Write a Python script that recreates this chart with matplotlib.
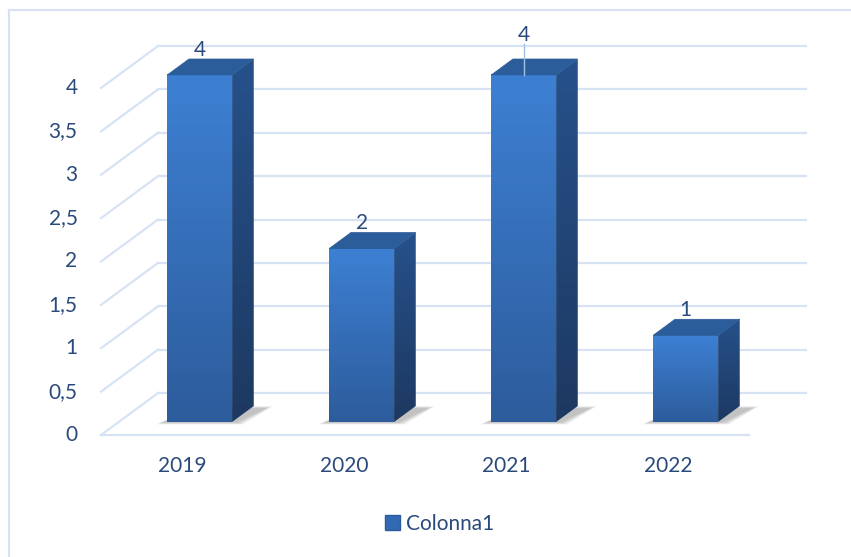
import numpy as np
import matplotlib
matplotlib.use('Agg')
import matplotlib.pyplot as plt
from matplotlib.patches import Polygon, Patch
from matplotlib.colors import LinearSegmentedColormap
from matplotlib.lines import Line2D

years = ['2019', '2020', '2021', '2022']
values = [4, 2, 4, 1]
label_lift = [0, 0, 0.17, 0]   # the 2021 label was dragged up in the original
yticks = [0, 0.5, 1, 1.5, 2, 2.5, 3, 3.5, 4]
ytick_labels = ['0', '0,5', '1', '1,5', '2', '2,5', '3', '3,5', '4']
series_name = 'Colonna1'

txt_col = '#2a4a7c'
grid_col = '#d7e3f4'
plt.rcParams['font.family'] = ['Lato', 'DejaVu Sans']

# fake 3D: depth vector in data units, bar depth from t0 to t1
Dx, Dy = 0.352, 0.484
t0, t1 = 0.31, 0.69
w = 0.40

fig = plt.figure(figsize=(8.51, 5.57), dpi=100)
ax = fig.add_axes([0, 0, 1, 1])
ax.set_axis_off()

n = len(years)
xl, xr = -0.5, n - 0.5

# walls
for v in yticks:
    ax.plot([xl, xl + Dx], [v, v + Dy], color=grid_col, lw=1.6, zorder=1)
    ax.plot([xl + Dx, xr + Dx], [v + Dy, v + Dy], color=grid_col, lw=1.6, zorder=1)
ax.plot([xl, xr], [0, 0], color=grid_col, lw=1.6, zorder=1)

for v, s in zip(yticks, ytick_labels):
    ax.text(-0.645, v, s, ha='right', va='center', fontsize=15, color=txt_col)

front_cm = LinearSegmentedColormap.from_list('f', ['#2d5c9c', '#3d80d3'])
side_cm = LinearSegmentedColormap.from_list('s', ['#1d3961', '#26518b'])
grad = np.linspace(0, 1, 100).reshape(-1, 1)

for i, (yr, v) in enumerate(zip(years, values)):
    x0 = i - w / 2
    x1 = i + w / 2
    # soft shadow on the floor
    for k in range(6):
        e = 0.008 * (6 - k)
        pts = [(x0 - e - 0.02 + t0 * Dx, t0 * Dy - e * 0.6),
               (x1 + e + 0.02 + t0 * Dx, t0 * Dy - e * 0.6),
               (x1 + e + 0.07 + t1 * Dx, t1 * Dy - 0.03 + e * 0.6),
               (x0 - e + 0.07 + t1 * Dx, t1 * Dy - 0.03 + e * 0.6)]
        ax.add_patch(Polygon(pts, closed=True, facecolor='#404040', edgecolor='none',
                             alpha=0.06, zorder=2))
    # front face
    ax.imshow(grad, extent=[x0 + t0 * Dx, x1 + t0 * Dx, t0 * Dy, v + t0 * Dy],
              origin='lower', cmap=front_cm, aspect='auto', zorder=3, interpolation='bicubic')
    # right face
    side = [(x1 + t0 * Dx, t0 * Dy), (x1 + t1 * Dx, t1 * Dy),
            (x1 + t1 * Dx, v + t1 * Dy), (x1 + t0 * Dx, v + t0 * Dy)]
    sp = Polygon(side, closed=True, facecolor='none', edgecolor='none')
    ax.add_patch(sp)
    im = ax.imshow(grad, extent=[x1 + t0 * Dx, x1 + t1 * Dx, t0 * Dy, v + t1 * Dy],
                   origin='lower', cmap=side_cm, aspect='auto', zorder=3)
    im.set_clip_path(sp)
    # top face
    top = [(x0 + t0 * Dx, v + t0 * Dy), (x1 + t0 * Dx, v + t0 * Dy),
           (x1 + t1 * Dx, v + t1 * Dy), (x0 + t1 * Dx, v + t1 * Dy)]
    ax.add_patch(Polygon(top, closed=True, facecolor='#2c5d9b', edgecolor='#2a5894',
                         lw=0.5, zorder=4))

    lx = i + t0 * Dx
    ly = v + t1 * Dy + 0.106 + label_lift[i]
    ax.text(lx, ly, str(v), ha='center', va='center', fontsize=15, color=txt_col, zorder=6)
    if label_lift[i] > 0:
        ax.plot([lx, lx], [v + t0 * Dy, ly - 0.1], color='#a3c0e6', lw=1.0, zorder=5)

    ax.text(i, -0.357, yr, ha='center', va='center', fontsize=15, color=txt_col)

ax.set_xlim(-1.1235, 4.1296)
ax.set_ylim(-1.406, 5.014)

handle = Patch(facecolor='#3369b3', edgecolor='#2d5c9c', label=series_name)
fig.legend(handles=[handle], loc='center', bbox_to_anchor=(440 / 851, 1 - 524 / 557),
           frameon=False, fontsize=15, handlelength=0.7, handleheight=0.7,
           handletextpad=0.3, labelcolor=txt_col)

# chart border (only the top and left edges are inside the picture)
fig.add_artist(Line2D([9 / 851, 9 / 851], [0, 1 - 9.5 / 557], color=grid_col, lw=1.5,
                      transform=fig.transFigure))
fig.add_artist(Line2D([9 / 851, 1], [1 - 9.5 / 557, 1 - 9.5 / 557], color=grid_col, lw=1.5,
                      transform=fig.transFigure))

fig.savefig('out.png', dpi=100)
